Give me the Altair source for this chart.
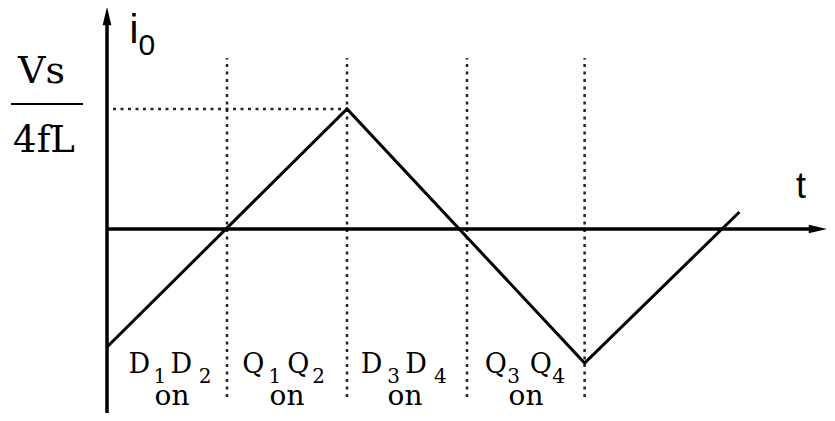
import altair as alt
import pandas as pd

# ---- waveform (t in quarter-periods, i in units of Vs/4fL) ----
wave_t = [0.0, 2.0, 3.98, 5.27]
wave_i = [-0.983, 1.0, -1.117, 0.142]

# ---- dotted guides ----
guide_t = [1.0, 2.0, 3.0, 3.98]
guide_top = [1.425, 1.425, 1.425, 1.425]
guide_bottom = [-1.40, -1.40, -1.40, -1.40]
peak_t0 = [0.05]
peak_t1 = [2.0]
peak_i = [1.0]

# ---- axes ----
xaxis_t0, xaxis_t1 = [0.0], [5.875]
yaxis_i0, yaxis_i1 = [-1.575], [1.725]
xarrow_t, xarrow_i = [5.925], [0.0]
yarrow_t, yarrow_i = [0.0], [1.775]

# ---- labels ----
frac_top_text, frac_top_t, frac_top_i = ["Vs"], [-0.546], [1.2167]
frac_bot_text, frac_bot_t, frac_bot_i = ["4fL"], [-0.525], [0.6417]
frac_bar_t0, frac_bar_t1, frac_bar_i = [-0.80], [-0.20], [1.0417]

ylab_text, ylab_t, ylab_i = ["i"], [0.225], [1.55]
ysub_text, ysub_t, ysub_i = ["0"], [0.333], [1.45]
xlab_text, xlab_t, xlab_i = ["t"], [5.783], [0.258]

dev_letters = ["D", "D", "Q", "Q", "D", "D", "Q", "Q"]
dev_letter_t = [0.27, 0.62, 1.22, 1.595, 2.205, 2.575, 3.24, 3.615]
dev_letter_i = -1.20
dev_subs = ["1", "2", "1", "2", "3", "4", "3", "4"]
dev_sub_t = [0.44, 0.818, 1.398, 1.764, 2.389, 2.777, 3.389, 3.764]
dev_sub_i = -1.2833
on_text = ["on", "on", "on", "on"]
on_t = [0.542, 1.50, 2.483, 3.492]
on_i = -1.47

XS = alt.Scale(domain=[-0.825, 6.0], nice=False, zero=False)
YS = alt.Scale(domain=[-1.53333, 1.84167], nice=False, zero=False)
SERIF = "DejaVu Serif"
SANS = "Liberation Sans"


def X(f):
    return alt.X(f, type="quantitative", scale=XS, axis=None)


def Y(f):
    return alt.Y(f, type="quantitative", scale=YS, axis=None)


wave_df = pd.DataFrame({"t": wave_t, "i": wave_i, "o": list(range(len(wave_t)))})
wave = alt.Chart(wave_df).mark_line(color="black", strokeWidth=3).encode(
    x=X("t"), y=Y("i"), order="o:Q"
)

guides_df = pd.DataFrame({"t": guide_t, "i0": guide_bottom, "i1": guide_top})
guides = alt.Chart(guides_df).mark_rule(
    color="#222", strokeWidth=2.5, strokeDash=[3, 4.5]
).encode(x=X("t"), y=Y("i0"), y2="i1:Q")

peak_df = pd.DataFrame({"t0": peak_t0, "t1": peak_t1, "i": peak_i})
peak = alt.Chart(peak_df).mark_rule(
    color="#222", strokeWidth=2.5, strokeDash=[3, 4.5]
).encode(x=X("t0"), x2="t1:Q", y=Y("i"))

xaxis_df = pd.DataFrame({"t0": xaxis_t0, "t1": xaxis_t1, "i": [0.0]})
xaxis = alt.Chart(xaxis_df).mark_rule(color="black", strokeWidth=3.5).encode(
    x=X("t0"), x2="t1:Q", y=Y("i")
)
yaxis_df = pd.DataFrame({"t": [0.0], "i0": yaxis_i0, "i1": yaxis_i1})
yaxis = alt.Chart(yaxis_df).mark_rule(color="black", strokeWidth=3.5).encode(
    x=X("t"), y=Y("i0"), y2="i1:Q"
)

xarrow = alt.Chart(pd.DataFrame({"t": xarrow_t, "i": xarrow_i})).mark_point(
    shape="M1,0L-1,-0.47L-1,0.47Z", filled=True, size=340, color="black",
    opacity=1, strokeWidth=0
).encode(x=X("t"), y=Y("i"))
yarrow = alt.Chart(pd.DataFrame({"t": yarrow_t, "i": yarrow_i})).mark_point(
    shape="M0,-1L-0.47,1L0.47,1Z", filled=True, size=340, color="black",
    opacity=1, strokeWidth=0
).encode(x=X("t"), y=Y("i"))

bar = alt.Chart(pd.DataFrame({"t0": frac_bar_t0, "t1": frac_bar_t1, "i": frac_bar_i})).mark_rule(
    color="black", strokeWidth=2
).encode(x=X("t0"), x2="t1:Q", y=Y("i"))


def text_layer(texts, ts, is_, font, size, align="center"):
    if not isinstance(is_, list):
        is_ = [is_] * len(texts)
    df = pd.DataFrame({"txt": texts, "t": ts, "i": is_})
    return alt.Chart(df).mark_text(
        font=font, fontSize=size, color="black", align=align, baseline="alphabetic"
    ).encode(x=X("t"), y=Y("i"), text="txt:N")


texts = [
    text_layer(frac_top_text, frac_top_t, frac_top_i, SERIF, 38),
    text_layer(frac_bot_text, frac_bot_t, frac_bot_i, SERIF, 37),
    text_layer(ylab_text, ylab_t, ylab_i, SANS, 40),
    text_layer(ysub_text, ysub_t, ysub_i, SANS, 30),
    text_layer(xlab_text, xlab_t, xlab_i, SANS, 36),
    text_layer(dev_letters, dev_letter_t, dev_letter_i, SERIF, 27),
    text_layer(dev_subs, dev_sub_t, dev_sub_i, SERIF, 20),
    text_layer(on_text, on_t, on_i, SERIF, 28),
]

chart = alt.layer(guides, peak, xaxis, yaxis, wave, xarrow, yarrow, bar, *texts).properties(
    width=819, height=405, autosize=alt.AutoSizeParams(type="none"), padding=0,
    background="white"
).configure_view(stroke=None)

chart.save("out.html", embed_options={"renderer": "svg", "actions": False})
